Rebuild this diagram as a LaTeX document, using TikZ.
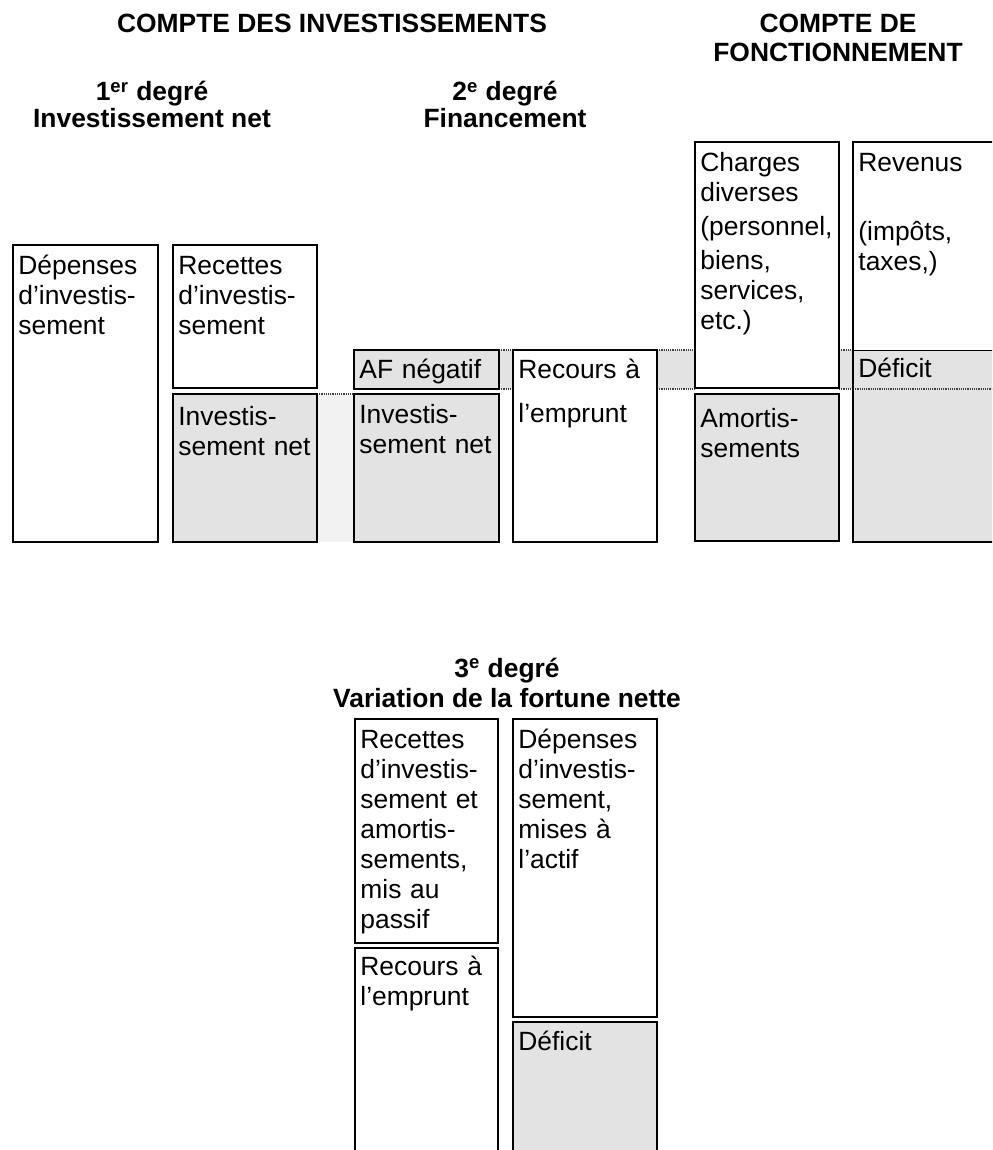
\documentclass[tikz,border=0pt]{standalone}
\usepackage{fontspec}
\setmainfont{Liberation Sans}
\definecolor{boxgray}{HTML}{E3E3E3}
\definecolor{stripgray}{HTML}{F2F2F2}
\begin{document}
\begin{tikzpicture}[x=0.5pt,y=-0.5pt,
  box/.style={draw=black,line width=0.75pt},
  dots/.style={draw=black!75,line width=0.55pt,dash pattern=on 0.55pt off 0.55pt},
  txt/.style={anchor=base west,inner sep=0pt,text width=68pt,align=left,font=\fontsize{13.2pt}{15pt}\selectfont},
  head/.style={anchor=base,inner sep=0pt,font=\fontsize{13.2pt}{15pt}\selectfont\bfseries}]
\useasboundingbox[fill=white] (0,0) rectangle (992,1150);
\begin{scope}
\clip (0,0) rectangle (992,1150);
% light strip
\fill[stripgray] (317,394) rectangle (354,542);
\draw[dots] (317,394) -- (354,394);
% gray strips
\fill[boxgray] (499,350) rectangle (513,389);
\draw[dots] (499,350) -- (513,350) (499,389) -- (513,389);
\fill[boxgray] (657,350) rectangle (695,389);
\draw[dots] (657,350) -- (695,350) (657,389) -- (695,389);
\fill[boxgray] (839,350) rectangle (853,389);
\draw[dots] (839,350) -- (853,350) (839,389) -- (853,389);
% Revenus column
\fill[boxgray] (853,350) rectangle (1000,542);
\draw[line width=0.5pt] (853,350) -- (1000,350);
\draw[dots] (853,389) -- (1000,389);
\draw[box] (1000,142) -- (853,142) -- (853,542) -- (1000,542);
% boxes top
\draw[box] (13,245) rectangle (158,542);
\draw[box] (173,245) rectangle (317,388);
\draw[box,fill=boxgray] (173,394) rectangle (317,542);
\draw[box,fill=boxgray] (354,350) rectangle (499,389);
\draw[box,fill=boxgray] (354,394) rectangle (499,542);
\draw[box] (513,350) rectangle (657,542);
\draw[box] (695,142) rectangle (839,388);
\draw[box,fill=boxgray] (695,394) rectangle (839,541);
% boxes bottom
\draw[box] (355,719) rectangle (498,943);
\draw[box] (355,948) rectangle (498,1170);
\draw[box] (513,719) rectangle (657,1017);
\draw[box,fill=boxgray] (513,1022) rectangle (657,1170);
\end{scope}
% texts
\node[txt] (t-dep1) at (18,274) {Dépenses\\d’investis-\\sement};
\node[txt] (t-rec1) at (178,274) {Recettes\\d’investis-\\sement};
\node[txt] (t-inv1) at (178,425) {Investis-\\sement net};
\node[txt] (t-af) at (359,378) {AF négatif};
\node[txt] (t-inv2) at (359,423) {Investis-\\sement net};
\node[txt] (t-emp) at (518,378) {Recours à\\[7pt]l’emprunt};
\node[txt] (t-chg) at (700,172) {Charges\\diverses\\[2pt](personnel,\\[2pt]biens,\\services,\\etc.)};
\node[txt] (t-rev) at (858,172) {Revenus\\[19.5pt](impôts,\\taxes,)};
\node[txt] (t-def1) at (858,377) {Déficit};
\node[txt] (t-am) at (700,427) {Amortis-\\sements};
\node[txt] (t-recb) at (360,748) {Recettes\\d’investis-\\sement et\\amortis-\\sements,\\mis au\\passif};
\node[txt] (t-empb) at (360,975) {Recours à\\l’emprunt};
\node[txt] (t-depb) at (518,748) {Dépenses\\d’investis-\\sement,\\mises à\\l’actif};
\node[txt] (t-defb) at (518,1050) {Déficit};
% headings
\node[head] (h-inv) at (332,33) {COMPTE DES INVESTISSEMENTS};
\node[head] (h-fon1) at (838,33) {COMPTE DE};
\node[head] (h-fon2) at (838,62) {FONCTIONNEMENT};
\node[head] (h-d1a) at (152,101) {1\textsuperscript{er} degré};
\node[head] (h-d1b) at (152,128) {Investissement net};
\node[head] (h-d2a) at (505,101) {2\textsuperscript{e} degré};
\node[head] (h-d2b) at (505,128) {Financement};
\node[head] (h-d3a) at (507,677) {3\textsuperscript{e} degré};
\node[head] (h-d3b) at (507,707) {Variation de la fortune nette};
\end{tikzpicture}
\end{document}
